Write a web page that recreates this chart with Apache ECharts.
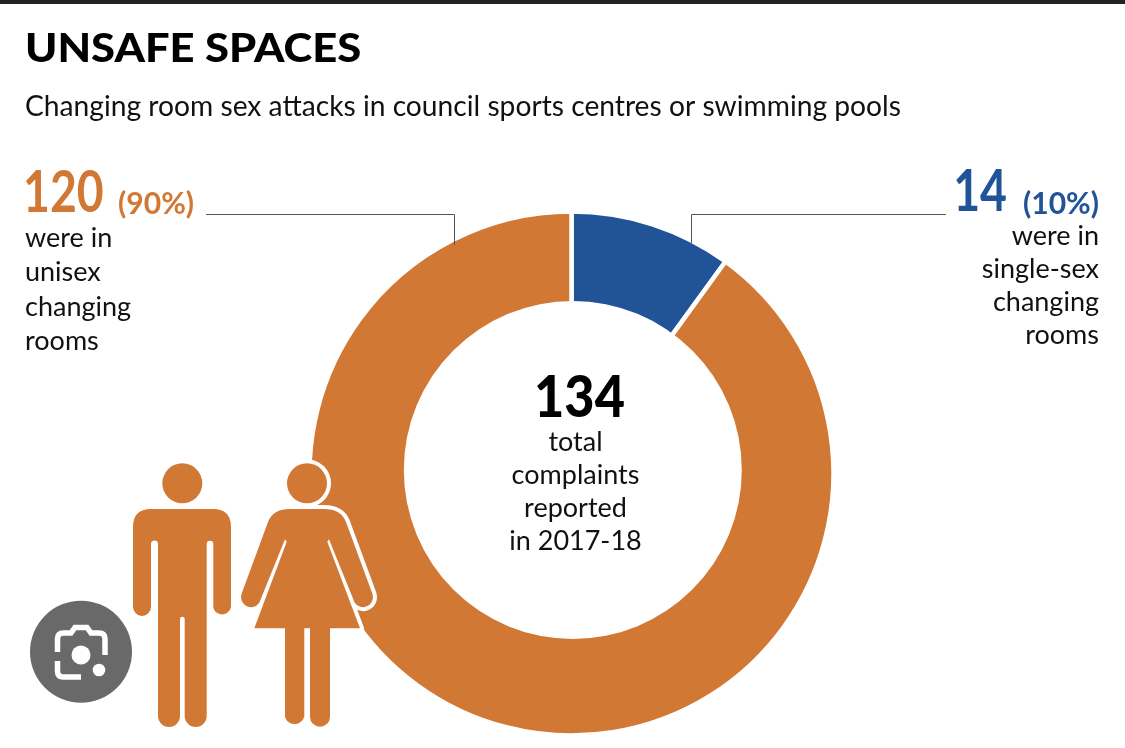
<!DOCTYPE html>
<html>
<head>
<meta charset="utf-8">
<title>Unsafe spaces</title>
<script src="https://cdn.jsdelivr.net/npm/echarts@6/dist/echarts.min.js"></script>
<style>
	html,body{margin:0;padding:0;background:#fff;}
	#myChart{width:1125px;height:748px;}
</style>
</head>
<body>
<div id="myChart"></div>

<script type='text/javascript'>
//chart data
var categories = ['single-sex','unisex'];
var complaints = [14,120];
var shares     = [10,90];
var colors     = ['#215497','#D27835'];
var totalLines = ['total','complaints','reported','in 2017-18'];
var leftLines  = ['were in','unisex','changing','rooms'];
var rightLines = ['were in','single-sex','changing','rooms'];

var FONT = 'Lato';
var INK = '#111';
var ORANGE = colors[1];
var BLUE = colors[0];

//pictograms and lens badge
var manPath = 'M133,527 Q133,509 151,509 H213 Q231,509 231,527 V607 A9,9 0 0 1 213.3,607 V544 A3.3,3.3 0 0 0 206.7,544 V716 A11,11 0 0 1 184.7,716 V619 A2.3,2.3 0 0 0 180,619 V716 A11,11 0 0 1 158,716 V544 A3.5,3.5 0 0 0 151,544 V607 A9,9 0 0 1 133,607 Z';
var womanPath = 'M268,522 Q273,509 290,509 H324 Q341,509 346,522 L372.5,594 A10,10 0 0 1 354.7,602.7 L329,539.3 L327.3,541.7 L360,628.3 H330 V716.7 A10,10 0 0 1 310,716.7 V628.3 H304.3 V716.7 A10,10 0 0 1 285,716.7 V628.3 H254.3 L286.7,541.7 L285,539.3 L259.3,602.7 A10,10 0 0 1 241.5,594 Z';
var lensPath = 'M57.5,652 V639 Q57.5,633 63.5,633 H71 L75,627.5 H87 L91,633 H99 Q105,633 105,639 V655 M57.5,661 V671 Q57.5,677 63.5,677 H81';

echarts.graphic.registerShape('manIcon',echarts.graphic.extendPath(manPath,{}));
echarts.graphic.registerShape('womanIcon',echarts.graphic.extendPath(womanPath,{}));
echarts.graphic.registerShape('lensIcon',echarts.graphic.extendPath(lensPath,{}));

function label(text,x,y,size,weight,fill,align,scaleX)
{
	return {
		type:'text',
		x:x,
		y:y,
		scaleX:scaleX || 1,
		silent:true,
		style:{
			text:text,
			font:weight+' '+size+'px '+FONT,
			fill:fill,
			textAlign:align,
			textVerticalAlign:'middle'
		}
	};
}

//stacked text lines, fixed line pitch
function block(lines,x,y,pitch,size,align)
{
	return lines.map(function(line,i)
	{
		return label(line,x,y+i*pitch,size,400,INK,align);
	});
}

var elements = [
	{type:'rect',silent:true,shape:{x:0,y:0,width:1125,height:4},style:{fill:'#212327'}},
	label('UNSAFE SPACES',25,49,40,900,'#000','left',1.088),
	label('Changing room sex attacks in council sports centres or swimming pools',25,106.5,28,400,INK,'left',1.007),

	//the hole in the reference sits a little off the ring's centre
	{type:'circle',silent:true,shape:{cx:572.8,cy:470,r:169},style:{fill:'#fff'}},

	label(complaints[1],23,193,58,700,ORANGE,'left',0.8),
	label('('+shares[1]+'%)',118,204,31,700,ORANGE,'left',0.97),
	label(complaints[0],1007,192,58,700,BLUE,'right',0.8),
	label('('+shares[0]+'%)',1099,204,31,700,BLUE,'right',0.97),

	{type:'polyline',silent:true,shape:{points:[[206,214.5],[454.5,214.5],[454.5,245]]},style:{stroke:'#555',lineWidth:1,fill:null}},
	{type:'polyline',silent:true,shape:{points:[[946,214.5],[691.5,214.5],[691.5,243]]},style:{stroke:'#555',lineWidth:1,fill:null}},

	label(complaints[0]+complaints[1],579.5,398,58,900,'#000','center',0.9),

	{type:'manIcon',silent:true,style:{fill:ORANGE}},
	{type:'circle',silent:true,shape:{cx:182.3,cy:483.3,r:20},style:{fill:ORANGE}},
	{type:'circle',silent:true,shape:{cx:307,cy:483.3,r:24},style:{fill:'#fff'}},
	{type:'womanIcon',silent:true,style:{fill:'#fff',stroke:'#fff',lineWidth:8,lineJoin:'round'}},
	{type:'womanIcon',silent:true,style:{fill:ORANGE}},
	{type:'circle',silent:true,shape:{cx:307,cy:483.3,r:20},style:{fill:ORANGE}},

	{type:'circle',silent:true,shape:{cx:81,cy:651.7,r:51},style:{fill:'#696969'}},
	{type:'lensIcon',silent:true,style:{fill:null,stroke:'#fff',lineWidth:5.5}},
	{type:'circle',silent:true,shape:{cx:81,cy:655,r:9.5},style:{fill:'#fff'}},
	{type:'circle',silent:true,shape:{cx:99,cy:670,r:6.3},style:{fill:'#fff'}}
];

elements = elements.concat(
	block(leftLines,25,238,34.4,27,'left'),
	block(rightLines,1099,236,33.2,27,'right'),
	block(totalLines,575.5,442,33,27,'center')
);

//graphic sits under the series by default, the woman icon has to cover the ring
elements.forEach(function(el)
{
	el.z = 10;
});

var option = {
	animation:false,
	backgroundColor:'#fff',
	color:colors,
	series:[
		{
			type:'pie',
			silent:true,
			center:[571.5,473.5],
			radius:[160,262],
			startAngle:90,
			clockwise:true,
			label:{show:false},
			labelLine:{show:false},
			itemStyle:{borderColor:'#fff',borderWidth:4.5},
			data:categories.map(function(name,i)
			{
				return {name:name,value:shares[i]};
			})
		}
	],
	graphic:{elements:elements}
};

echarts.init(document.getElementById('myChart')).setOption(option);
</script>
</body>
</html>
